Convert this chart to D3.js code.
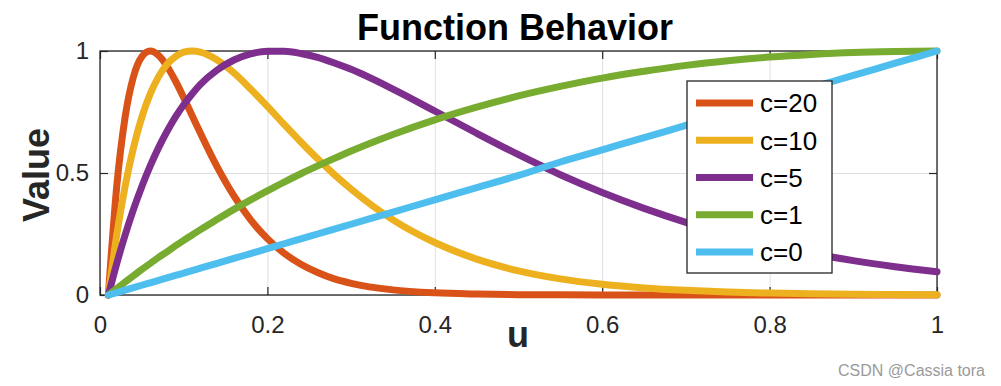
<!DOCTYPE html>
<html>
<head>
<meta charset="utf-8">
<script src="https://cdn.jsdelivr.net/npm/d3@7/dist/d3.min.js"></script>
<style>
  body { margin: 0; background: #fff; }
  svg { display: block; font-family: "Liberation Sans", Arial, Helvetica, sans-serif; }
</style>
</head>
<body>
<svg id="chart" width="1001" height="386"></svg>
<script>
// values
var uVals = [0.01,0.02,0.03,0.04,0.05,0.06,0.07,0.08,0.09,0.10,0.11,0.12,0.14,0.16,0.18,0.20,0.22,0.24,0.26,0.28,0.30,
             0.35,0.40,0.45,0.50,0.55,0.60,0.65,0.70,0.75,0.80,0.85,0.90,0.95,1.00];

var c20 = [0,0.445,0.729,0.895,0.977,1.0,0.982,0.938,0.878,0.809,0.736,0.663,0.525,0.406,0.308,0.231,0.171,0.126,0.092,0.066,0.048,
           0.021,0.009,0.004,0.0015,0.0006,0.0002,0.0001,0,0,0,0,0,0,0];
var c10 = [0,0.246,0.445,0.604,0.729,0.824,0.895,0.945,0.977,0.995,1.0,0.995,0.963,0.910,0.844,0.773,0.699,0.627,0.558,0.493,0.434,
           0.308,0.215,0.147,0.099,0.066,0.044,0.029,0.019,0.012,0.008,0.005,0.003,0.002,0.001];
var c5  = [0,0.129,0.246,0.351,0.445,0.529,0.604,0.670,0.729,0.780,0.824,0.863,0.922,0.963,0.988,0.999,0.999,0.990,0.974,0.951,0.925,
           0.844,0.754,0.663,0.575,0.493,0.420,0.355,0.298,0.249,0.207,0.171,0.141,0.116,0.095];
var c1  = [0,0.027,0.053,0.079,0.105,0.129,0.154,0.177,0.201,0.224,0.246,0.268,0.310,0.351,0.390,0.427,0.463,0.497,0.529,0.560,0.590,
           0.658,0.718,0.770,0.816,0.855,0.889,0.917,0.941,0.960,0.975,0.986,0.994,0.998,1.0];
var c0  = [0,0.01,0.02,0.03,0.04,0.05,0.06,0.07,0.08,0.09,0.10,0.11,0.13,0.15,0.17,0.19,0.21,0.23,0.25,0.27,0.29,
           0.34,0.39,0.44,0.49,0.545,0.595,0.645,0.695,0.745,0.80,0.85,0.90,0.95,1.0];

var seriesNames = ["c=20","c=10","c=5","c=1","c=0"];
var seriesVals = [c20, c10, c5, c1, c0];
var seriesColors = ["#D95319","#EDB120","#7E2F8E","#77AC30","#4DBEEE"];

var xTicks = [0,0.2,0.4,0.6,0.8,1];
var xTickLabels = ["0","0.2","0.4","0.6","0.8","1"];
var yTicks = [0,0.5,1];
var yTickLabels = ["0","0.5","1"];

var LEFT = 100, RIGHT = 937, TOP = 51, BOTTOM = 295;
var AX = "#262626";

var svg = d3.select("#chart");

var x = d3.scaleLinear().domain([0,1]).range([LEFT, RIGHT]);
var y = d3.scaleLinear().domain([0,1]).range([BOTTOM, TOP]);

// grid
svg.append("g")
  .attr("transform", "translate(0," + BOTTOM + ")")
  .call(d3.axisBottom(x).tickValues(xTicks).tickSize(-(BOTTOM-TOP)).tickFormat(""))
  .call(function(g){ g.select(".domain").remove(); g.selectAll("line").attr("stroke", "#dfdfdf").attr("stroke-width", 1); });
svg.append("g")
  .attr("transform", "translate(" + LEFT + ",0)")
  .call(d3.axisLeft(y).tickValues(yTicks).tickSize(-(RIGHT-LEFT)).tickFormat(""))
  .call(function(g){ g.select(".domain").remove(); g.selectAll("line").attr("stroke", "#dfdfdf").attr("stroke-width", 1); });

// axes with inward ticks
function styleAxis(g) {
  g.select(".domain").remove();
  g.selectAll("line").attr("stroke", AX).attr("stroke-width", 1.2);
  g.selectAll("text").attr("fill", AX).style("font-size", "24px");
}
svg.append("g")
  .attr("transform", "translate(0," + BOTTOM + ")")
  .call(d3.axisBottom(x).tickValues(xTicks).tickSizeInner(-8).tickSizeOuter(0).tickPadding(21)
    .tickFormat(function(d, i){ return xTickLabels[i]; }))
  .call(styleAxis);
svg.append("g")
  .attr("transform", "translate(" + LEFT + ",0)")
  .call(d3.axisLeft(y).tickValues(yTicks).tickSizeInner(-8).tickSizeOuter(0).tickPadding(11)
    .tickFormat(function(d, i){ return yTickLabels[i]; }))
  .call(styleAxis);
svg.append("g")
  .attr("transform", "translate(0," + TOP + ")")
  .call(d3.axisTop(x).tickValues(xTicks).tickSizeInner(-8).tickSizeOuter(0).tickFormat(""))
  .call(styleAxis);
svg.append("g")
  .attr("transform", "translate(" + RIGHT + ",0)")
  .call(d3.axisRight(y).tickValues(yTicks).tickSizeInner(-8).tickSizeOuter(0).tickFormat(""))
  .call(styleAxis);

svg.append("rect")
  .attr("x", LEFT).attr("y", TOP)
  .attr("width", RIGHT - LEFT).attr("height", BOTTOM - TOP)
  .attr("fill", "none").attr("stroke", AX).attr("stroke-width", 1.3);

// curves
var line = d3.line()
  .x(function(d){ return x(d[0]); })
  .y(function(d){ return y(d[1]); })
  .curve(d3.curveMonotoneX);

seriesVals.forEach(function(vals, k) {
  svg.append("path")
    .datum(uVals.map(function(u, i){ return [u, vals[i]]; }))
    .attr("d", line)
    .attr("fill", "none")
    .attr("stroke", seriesColors[k])
    .attr("stroke-width", 7)
    .attr("stroke-linejoin", "round")
    .attr("stroke-linecap", "round");
});

// titles
svg.append("text")
  .attr("x", 515).attr("y", 40)
  .attr("text-anchor", "middle")
  .style("font-size", "36px").style("font-weight", "bold")
  .attr("fill", "#000")
  .text("Function Behavior");

svg.append("text")
  .attr("transform", "translate(49,175) rotate(-90)")
  .attr("text-anchor", "middle")
  .style("font-size", "36px").style("font-weight", "bold")
  .attr("fill", AX)
  .text("Value");

svg.append("text")
  .attr("x", 518).attr("y", 347)
  .attr("text-anchor", "middle")
  .style("font-size", "36px").style("font-weight", "bold")
  .attr("fill", AX)
  .text("u");

// legend
var leg = svg.append("g");
leg.append("rect")
  .attr("x", 687).attr("y", 81)
  .attr("width", 145).attr("height", 192)
  .attr("fill", "#fff").attr("stroke", AX).attr("stroke-width", 1.3);

var legY = d3.scalePoint().domain(seriesNames).range([103, 252]);
seriesNames.forEach(function(name, k) {
  var yy = legY(name);
  leg.append("line")
    .attr("x1", 696).attr("x2", 753)
    .attr("y1", yy).attr("y2", yy)
    .attr("stroke", seriesColors[k]).attr("stroke-width", 7);
  leg.append("text")
    .attr("x", 760).attr("y", yy)
    .attr("dy", "0.36em")
    .style("font-size", "26px")
    .attr("fill", "#000")
    .text(name);
});

// watermark
svg.append("text")
  .attr("x", 985).attr("y", 376)
  .attr("text-anchor", "end")
  .style("font-size", "16px")
  .attr("fill", "#9a9a9a")
  .text("CSDN @Cassia tora");
</script>
</body>
</html>
